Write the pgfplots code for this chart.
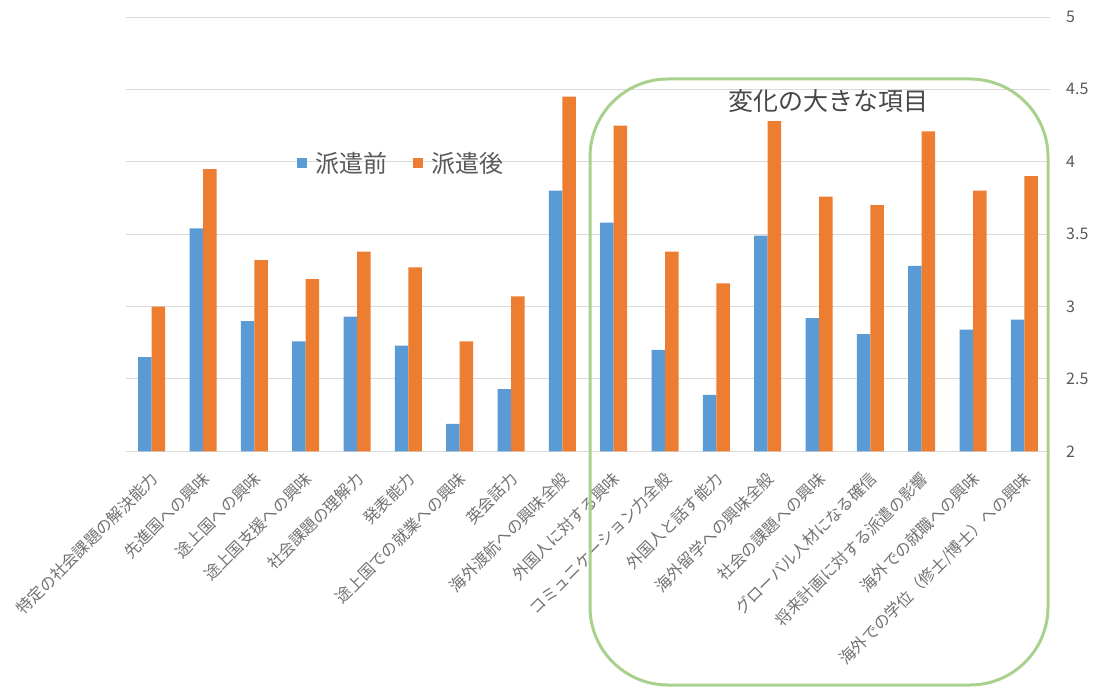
\documentclass[border=0pt]{standalone}
\usepackage{fontspec}
\setmainfont{Noto Sans CJK JP}
\usepackage{pgfplots}
\usepackage{pgfplotstable}
\pgfplotsset{compat=1.18}
\definecolor{cblue}{HTML}{5B9BD5}
\definecolor{corange}{HTML}{ED7D31}
\definecolor{cgrid}{HTML}{D9D9D9}
\definecolor{ctext}{HTML}{595959}
\definecolor{cgreen}{HTML}{A9D18E}
\pgfplotstableread{
x before after
0 2.65 3.00
1 3.54 3.95
2 2.90 3.32
3 2.76 3.19
4 2.93 3.38
5 2.73 3.27
6 2.19 2.76
7 2.43 3.07
8 3.80 4.45
9 3.58 4.25
10 2.70 3.38
11 2.39 3.16
12 3.49 4.28
13 2.92 3.76
14 2.81 3.70
15 3.28 4.21
16 2.84 3.80
17 2.91 3.90
}\datatable
\begin{document}
\begin{tikzpicture}[x=1pt,y=1pt]
\path[use as bounding box] (0,0) rectangle (1094,693);
\begin{axis}[
  at={(126pt,241.7pt)}, anchor=south west,
  scale only axis, width=924pt, height=434.3pt,
  xmin=-0.5, xmax=17.5, ymin=2, ymax=5,
  ybar=0pt, bar width=13.5pt,
  axis line style={draw=none},
  ymajorgrids, grid style={cgrid, line width=0.9pt},
  major tick length=0pt,
  ytick={2,2.5,3,3.5,4,4.5,5},
  yticklabel pos=right,
  yticklabel style={anchor=west, inner sep=0pt, xshift=16pt, font=\fontsize{16}{19}\selectfont, text=ctext, /pgf/number format/assume math mode=true},
  xtick=data,
  xticklabels={特定の社会課題の解決能力,先進国への興味,途上国への興味,途上国支援への興味,社会課題の理解力,発表能力,途上国での就業への興味,英会話力,海外渡航への興味全般,外国人に対する興味,コミュニケーション力全般,外国人と話す能力,海外留学への興味全般,社会の課題への興味,グローバル人材になる確信,将来計画に対する派遣の影響,海外での就職への興味,海外での学位（修士/博士）への興味},
  xticklabel style={xshift=-2pt, yshift=-19pt, rotate=45, anchor=north east, inner sep=0pt, font=\fontsize{16}{19}\selectfont, text=ctext!85},
  legend image code/.code={\fill[#1] (0pt,-5pt) rectangle (10pt,5pt);},
  legend style={at={(0.298,0.664)}, anchor=center, draw=none, fill=none, legend columns=2, font=\fontsize{24}{28}\selectfont, text=ctext,
    /tikz/every odd column/.append style={column sep=6pt},
    /tikz/every even column/.append style={column sep=24pt}},
]
\addplot[fill=cblue, draw=none] table[x=x, y=before] {\datatable};
\addplot[fill=corange, draw=none] table[x=x, y=after] {\datatable};
\legend{派遣前,派遣後}
\end{axis}
\draw[cgreen, line width=3pt, rounded corners=78pt] (590,8) rectangle (1048,614);
\node[font=\fontsize{25}{30}\selectfont, text=ctext!80!black] at (828,592) {変化の大きな項目};
\end{tikzpicture}
\end{document}
